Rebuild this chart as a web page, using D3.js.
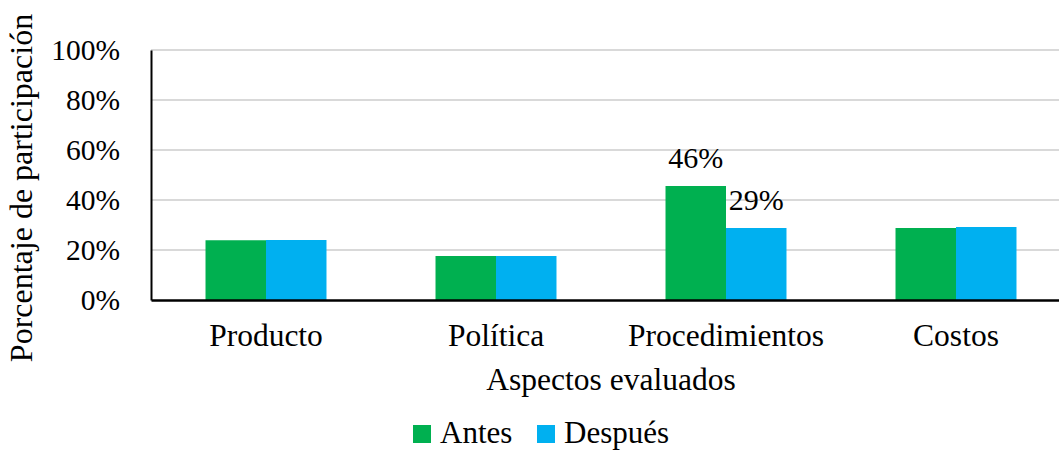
<!DOCTYPE html>
<html>
<head>
<meta charset="utf-8">
<script src="https://cdn.jsdelivr.net/npm/d3@7"></script>
<style>
  html, body { margin: 0; padding: 0; background: #fff; }
  svg { display: block; }
  text { font-family: "Liberation Serif", "Times New Roman", serif; fill: #000; }
</style>
</head>
<body>
<svg id="chart" width="1059" height="450"></svg>
<script>
// Aspects evaluated and the share of participation before / after
const categories = ["Producto", "Política", "Procedimientos", "Costos"];
const seriesNames = ["Antes", "Después"];
const antes = [0.239, 0.176, 0.456, 0.288];
const despues = [0.240, 0.176, 0.288, 0.292];
const yTicks = [0, 0.2, 0.4, 0.6, 0.8, 1.0];
const colors = ["#00B050", "#00B0F0"];
// Only the Procedimientos bars carry value labels
const labelled = ["Procedimientos"];

const svg = d3.select("#chart");
const plotLeft = 151, plotRight = 1071, plotTop = 50, plotBottom = 300;
const serif = '"Liberation Serif", "Times New Roman", serif';

const x0 = d3.scaleBand().domain(categories).range([plotLeft, plotRight])
  .paddingInner(0.474).paddingOuter(0.237);
const x1 = d3.scaleBand().domain(seriesNames).range([0, x0.bandwidth()]);
const y = d3.scaleLinear().domain([0, 1]).range([plotBottom, plotTop]);
const color = d3.scaleOrdinal().domain(seriesNames).range(colors);

const rows = categories.map((c, i) => ({ cat: c, values: [
  { key: "Antes", value: antes[i] },
  { key: "Después", value: despues[i] }
]}));

// Gridlines
svg.append("g")
  .selectAll("line")
  .data(yTicks.filter(d => d > 0))
  .join("line")
  .attr("x1", plotLeft).attr("x2", plotRight)
  .attr("y1", d => y(d)).attr("y2", d => y(d))
  .attr("stroke", "#d9d9d9").attr("stroke-width", 2);

// Bars
const groups = svg.append("g").selectAll("g")
  .data(rows).join("g")
  .attr("transform", d => `translate(${x0(d.cat)},0)`);

groups.selectAll("rect")
  .data(d => d.values)
  .join("rect")
  .attr("x", d => x1(d.key))
  .attr("width", x1.bandwidth())
  .attr("y", d => y(d.value))
  .attr("height", d => y(0) - y(d.value))
  .attr("fill", d => color(d.key));

// Value labels
const fmt = d3.format(".0%");
groups.filter(d => labelled.includes(d.cat))
  .selectAll("text.val")
  .data(d => d.values)
  .join("text")
  .attr("class", "val")
  .attr("x", d => x1(d.key) + x1.bandwidth() / 2)
  .attr("y", d => y(d.value) - 18)
  .attr("text-anchor", "middle")
  .style("font-size", "30px")
  .text(d => fmt(d.value));

// Y axis
const yAxis = svg.append("g")
  .attr("transform", `translate(${plotLeft},0)`)
  .call(d3.axisLeft(y).tickValues(yTicks).tickFormat(d3.format(".0%")).tickSize(0).tickPadding(31));
yAxis.select(".domain").attr("stroke", "#000").attr("stroke-width", 2);
yAxis.selectAll("text").style("font-size", "29.5px").style("font-family", serif);

// X axis
const xAxis = svg.append("g")
  .attr("transform", `translate(0,${plotBottom})`)
  .call(d3.axisBottom(x0).tickSize(0).tickPadding(24));
xAxis.select(".domain").attr("stroke", "#000").attr("stroke-width", 2.5);
xAxis.selectAll("text").style("font-size", "31.5px").style("font-family", serif);

// Axis titles
svg.append("text")
  .attr("x", (plotLeft + plotRight) / 2).attr("y", 390)
  .attr("text-anchor", "middle")
  .style("font-size", "31.5px")
  .text("Aspectos evaluados");

svg.append("text")
  .attr("transform", "translate(32,188) rotate(-90)")
  .attr("text-anchor", "middle")
  .style("font-size", "32px")
  .text("Porcentaje de participación");

// Legend
const legend = svg.append("g").attr("transform", "translate(413,425)");
const legendX = [0, 124];
seriesNames.forEach((name, i) => {
  const g = legend.append("g").attr("transform", `translate(${legendX[i]},0)`);
  g.append("rect").attr("width", 18).attr("height", 18).attr("fill", color(name));
  g.append("text").attr("x", 27).attr("y", 18).style("font-size", "31px").text(name);
});
</script>
</body>
</html>
